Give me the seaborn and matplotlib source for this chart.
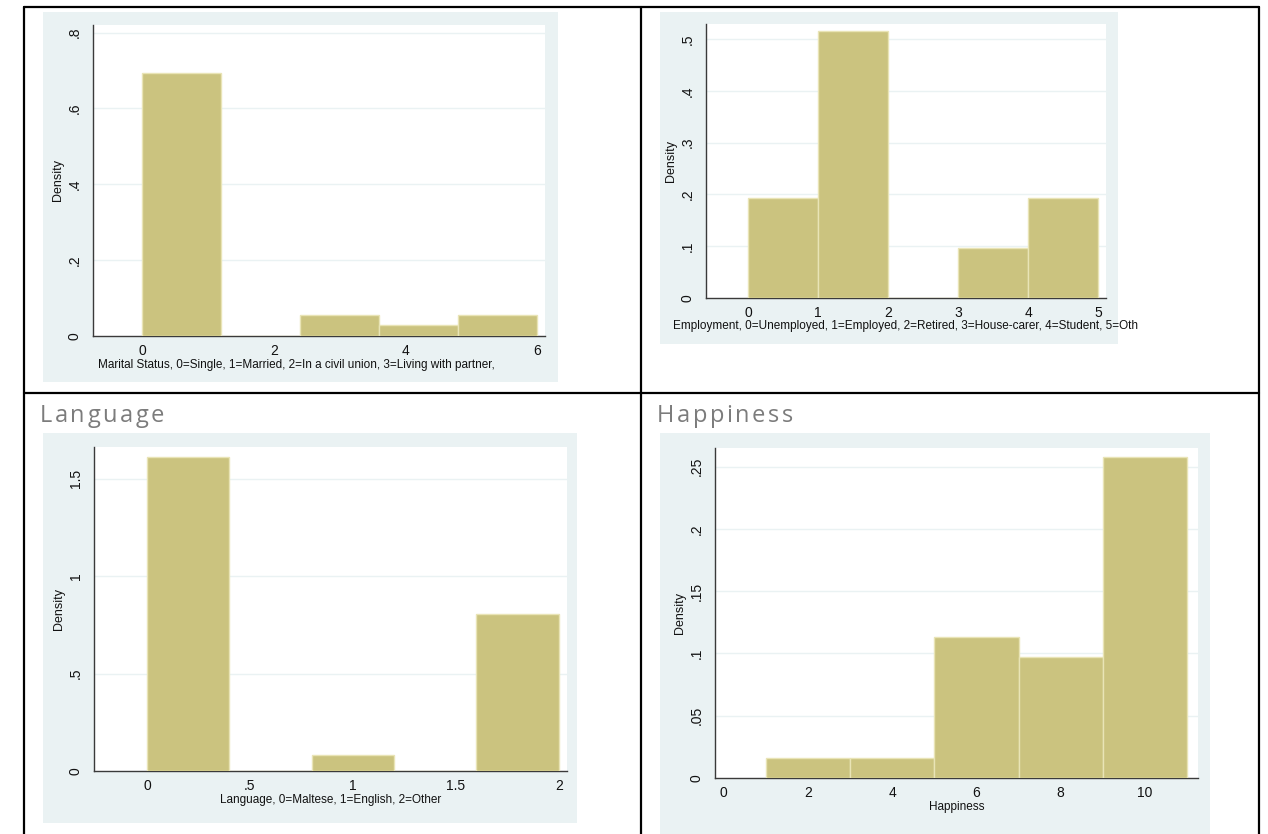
import matplotlib.pyplot as plt
import seaborn as sns
from matplotlib.patches import Rectangle
from matplotlib.lines import Line2D

# --- data (density per bin) ---
marital_edges = [0, 1.2, 2.4, 3.6, 4.8, 6.0]
marital_density = [0.694, 0.0, 0.056, 0.028, 0.056]
marital_xticks = [0, 2, 4, 6]
marital_xticklabels = ["0", "2", "4", "6"]
marital_yticks = [0, 0.2, 0.4, 0.6, 0.8]
marital_yticklabels = ["0", ".2", ".4", ".6", ".8"]
marital_xlabel = "Marital Status, 0=Single, 1=Married, 2=In a civil union, 3=Living with partner,"

employ_edges = [0, 1, 2, 3, 4, 5]
employ_density = [0.194, 0.516, 0.0, 0.097, 0.194]
employ_xticks = [0, 1, 2, 3, 4, 5]
employ_xticklabels = ["0", "1", "2", "3", "4", "5"]
employ_yticks = [0, 0.1, 0.2, 0.3, 0.4, 0.5]
employ_yticklabels = ["0", ".1", ".2", ".3", ".4", ".5"]
employ_xlabel = "Employment, 0=Unemployed, 1=Employed, 2=Retired, 3=House-carer, 4=Student, 5=Oth"

language_edges = [0, 0.4, 0.8, 1.2, 1.6, 2.0]
language_density = [1.613, 0.0, 0.081, 0.0, 0.806]
language_xticks = [0, 0.5, 1, 1.5, 2]
language_xticklabels = ["0", ".5", "1", "1.5", "2"]
language_yticks = [0, 0.5, 1, 1.5]
language_yticklabels = ["0", ".5", "1", "1.5"]
language_xlabel = "Language, 0=Maltese, 1=English, 2=Other"

happy_edges = [1, 3, 5, 7, 9, 11]
happy_density = [0.016, 0.016, 0.113, 0.097, 0.258]
happy_xticks = [0, 2, 4, 6, 8, 10]
happy_xticklabels = ["0", "2", "4", "6", "8", "10"]
happy_yticks = [0, 0.05, 0.1, 0.15, 0.2, 0.25]
happy_yticklabels = ["0", ".05", ".1", ".15", ".2", ".25"]
happy_xlabel = "Happiness"

titles = ["", "", "Language", "Happiness"]

BAR = "#cbc37f"
BAR_EDGE = "#e9e4b6"
BG = "#eaf2f3"
AXIS = "#3a3a3a"

sns.set_style("white")
plt.rcParams["font.family"] = ["Liberation Sans", "DejaVu Sans"]

W, H = 1268, 834
fig = plt.figure(figsize=(W / 100, H / 100), dpi=100)


def box(x0, y0, x1, y1):
    return [x0 / W, 1 - y1 / H, (x1 - x0) / W, (y1 - y0) / H]


# panel layout in pixels: grey background, white plot region, x-limits, y-top, xlabel x-pos
panels = [
    dict(bg=(43, 12, 558, 382), plot=(93, 25, 545, 336), xlim=(-0.745, 6.12), ytop=0.82, lx=0.45,
         edges=marital_edges, dens=marital_density, xt=marital_xticks, xtl=marital_xticklabels,
         yt=marital_yticks, ytl=marital_yticklabels, xlabel=marital_xlabel),
    dict(bg=(660, 12, 1118, 344), plot=(706, 24, 1106, 298), xlim=(-0.6, 5.11), ytop=0.529, lx=0.5,
         edges=employ_edges, dens=employ_density, xt=employ_xticks, xtl=employ_xticklabels,
         yt=employ_yticks, ytl=employ_yticklabels, xlabel=employ_xlabel),
    dict(bg=(43, 433, 577, 823), plot=(94, 447, 567, 771), xlim=(-0.257, 2.04), ytop=1.664, lx=0.5,
         edges=language_edges, dens=language_density, xt=language_xticks, xtl=language_xticklabels,
         yt=language_yticks, ytl=language_yticklabels, xlabel=language_xlabel),
    dict(bg=(660, 433, 1210, 840), plot=(715, 448, 1198, 778), xlim=(-0.21, 11.26), ytop=0.265, lx=0.5,
         edges=happy_edges, dens=happy_density, xt=happy_xticks, xtl=happy_xticklabels,
         yt=happy_yticks, ytl=happy_yticklabels, xlabel=happy_xlabel),
]

for p in panels:
    x0, y0, x1, y1 = p["bg"]
    fig.patches.append(Rectangle((x0 / W, 1 - y1 / H), (x1 - x0) / W, (y1 - y0) / H,
                                 transform=fig.transFigure, facecolor=BG, edgecolor="none", zorder=-5))

    ax = fig.add_axes(box(*p["plot"]))
    ax.set_facecolor("white")
    sns.histplot(x=p["edges"][:-1], weights=p["dens"], bins=p["edges"], ax=ax,
                 color=BAR, edgecolor=BAR_EDGE, linewidth=1, alpha=1, zorder=3)
    ax.set_xlim(*p["xlim"])
    ax.set_ylim(0, p["ytop"])
    ax.set_xticks(p["xt"])
    ax.set_xticklabels(p["xtl"])
    ax.set_yticks(p["yt"])
    ax.set_yticklabels(p["ytl"])
    for v in p["yt"][1:]:
        ax.axhline(v, color=BG, lw=1, zorder=1)
    sns.despine(ax=ax)
    for s in ["left", "bottom"]:
        ax.spines[s].set_color(AXIS)
        ax.spines[s].set_linewidth(1)
    ax.tick_params(axis="both", direction="out", length=4, width=0.8, color=AXIS,
                   labelsize=10, labelcolor="#111111", pad=2)
    ax.tick_params(axis="y", labelrotation=90, pad=4)
    for lab in ax.get_yticklabels():
        lab.set_va("center")
    ax.set_ylabel("Density", fontsize=9, color="#111111", labelpad=3)
    ax.set_xlabel(p["xlabel"], fontsize=8.5, color="#111111", labelpad=0)
    ax.xaxis.set_label_coords(p["lx"], -0.028 - 14 / (p["plot"][3] - p["plot"][1]))

# cell titles for the bottom row, drawn letter by letter to get the wide tracking
renderer = fig.canvas.get_renderer()
for i, xpix in [(2, 40), (3, 657)]:
    x = xpix
    for ch in titles[i]:
        t = fig.text(x / W, 1 - 422 / H, ch, fontsize=17, color="#7c7c7c",
                     family=["Open Sans", "DejaVu Sans"], va="baseline", ha="left")
        x += t.get_window_extent(renderer).width + 2.5

# table borders
lines = [
    ((24, 1259), (6.5, 6.5)),
    ((24, 1259), (393, 393)),
    ((24, 24), (6.5, 834)),
    ((641, 641), (6.5, 834)),
    ((1259, 1259), (6.5, 834)),
]
for xs, ys in lines:
    fig.lines.append(Line2D([x / W for x in xs], [1 - y / H for y in ys],
                            transform=fig.transFigure, color="black", lw=1.6, zorder=10))

fig.savefig("out.png", dpi=100)
